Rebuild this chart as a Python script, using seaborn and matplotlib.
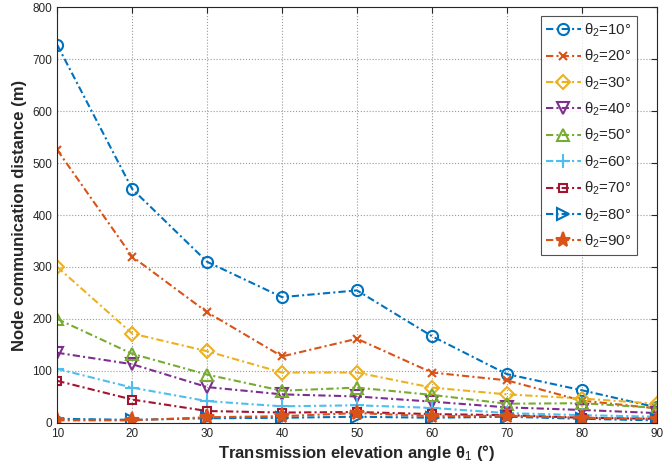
import matplotlib
matplotlib.use("Agg")
import matplotlib.pyplot as plt
import seaborn as sns
import pandas as pd

theta1 = [10, 20, 30, 40, 50, 60, 70, 80, 90]
labels = ["θ$_2$=10°", "θ$_2$=20°", "θ$_2$=30°", "θ$_2$=40°", "θ$_2$=50°",
          "θ$_2$=60°", "θ$_2$=70°", "θ$_2$=80°", "θ$_2$=90°"]

d10 = [727, 450, 310, 242, 255, 167, 94, 63, 30]
d20 = [525, 320, 213, 128, 162, 97, 82, 43, 28]
d30 = [300, 172, 138, 97, 97, 68, 55, 47, 37]
d40 = [135, 113, 69, 55, 51, 41, 30, 25, 19]
d50 = [200, 133, 93, 62, 68, 54, 37, 38, 29]
d60 = [104, 68, 42, 32, 34, 29, 19, 15, 12]
d70 = [81, 45, 23, 20, 21, 17, 15, 10, 8]
d80 = [8, 6, 9, 10, 12, 10, 12, 8, 5]
d90 = [5, 5, 11, 13, 19, 13, 14, 10, 8]
series = [d10, d20, d30, d40, d50, d60, d70, d80, d90]

colors = ["#0072BD", "#D95319", "#EDB120", "#7E2F8E", "#77AC30",
          "#4DBEEE", "#A2142F", "#0072BD", "#D95319"]
markers = ["o", "x", "D", "v", "^", "+", "s", ">", "*"]
msizes = [8, 6, 7, 9, 9, 10, 6, 8, 11]

sns.set_style("white")
plt.rcParams['font.family'] = ['Liberation Sans', 'DejaVu Sans']
plt.rcParams['mathtext.fontset'] = 'custom'
plt.rcParams['mathtext.rm'] = 'Liberation Sans'
plt.rcParams['mathtext.it'] = 'Liberation Sans'

fig, ax = plt.subplots(figsize=(6.66, 4.71), dpi=100)
fig.subplots_adjust(left=0.086, right=0.986, top=0.985, bottom=0.102)

for vals, lab, c, m, ms in zip(series, labels, colors, markers, msizes):
    df = pd.DataFrame({"x": theta1, "y": vals})
    filled = (m == "*")
    sns.lineplot(data=df, x="x", y="y", ax=ax, color=c, marker=m,
                 markersize=ms, linestyle=(0, (3.5, 1.5, 1, 1.5)), linewidth=1.5,
                 markerfacecolor=c if filled else "none",
                 markeredgecolor=c, markeredgewidth=1.5, label=lab)

ax.set_xlim(10, 90)
ax.set_ylim(0, 800)
ax.set_xticks(theta1)
ax.set_yticks(range(0, 801, 100))
ax.grid(True, linestyle=":", color="#9a9a9a", linewidth=0.8)
ax.tick_params(direction="in", top=True, right=True, labelsize=8.5,
               colors="#262626", length=4)
for s in ax.spines.values():
    s.set_color("#262626")
    s.set_linewidth(0.8)

ax.set_xlabel("Transmission elevation angle θ$_1$ (°)", fontsize=12,
              fontweight="bold", color="#262626", labelpad=2)
ax.set_ylabel("Node communication distance (m)", fontsize=12,
              fontweight="bold", color="#262626", labelpad=4)

leg = ax.legend(loc="upper right", bbox_to_anchor=(0.967, 0.978), fontsize=10.8,
                frameon=True, fancybox=False, edgecolor="#262626",
                handlelength=2.3, labelspacing=0.6, borderpad=0.35,
                handletextpad=0.25, borderaxespad=0)
leg.get_frame().set_linewidth(0.8)

fig.savefig("out.png", dpi=100)
